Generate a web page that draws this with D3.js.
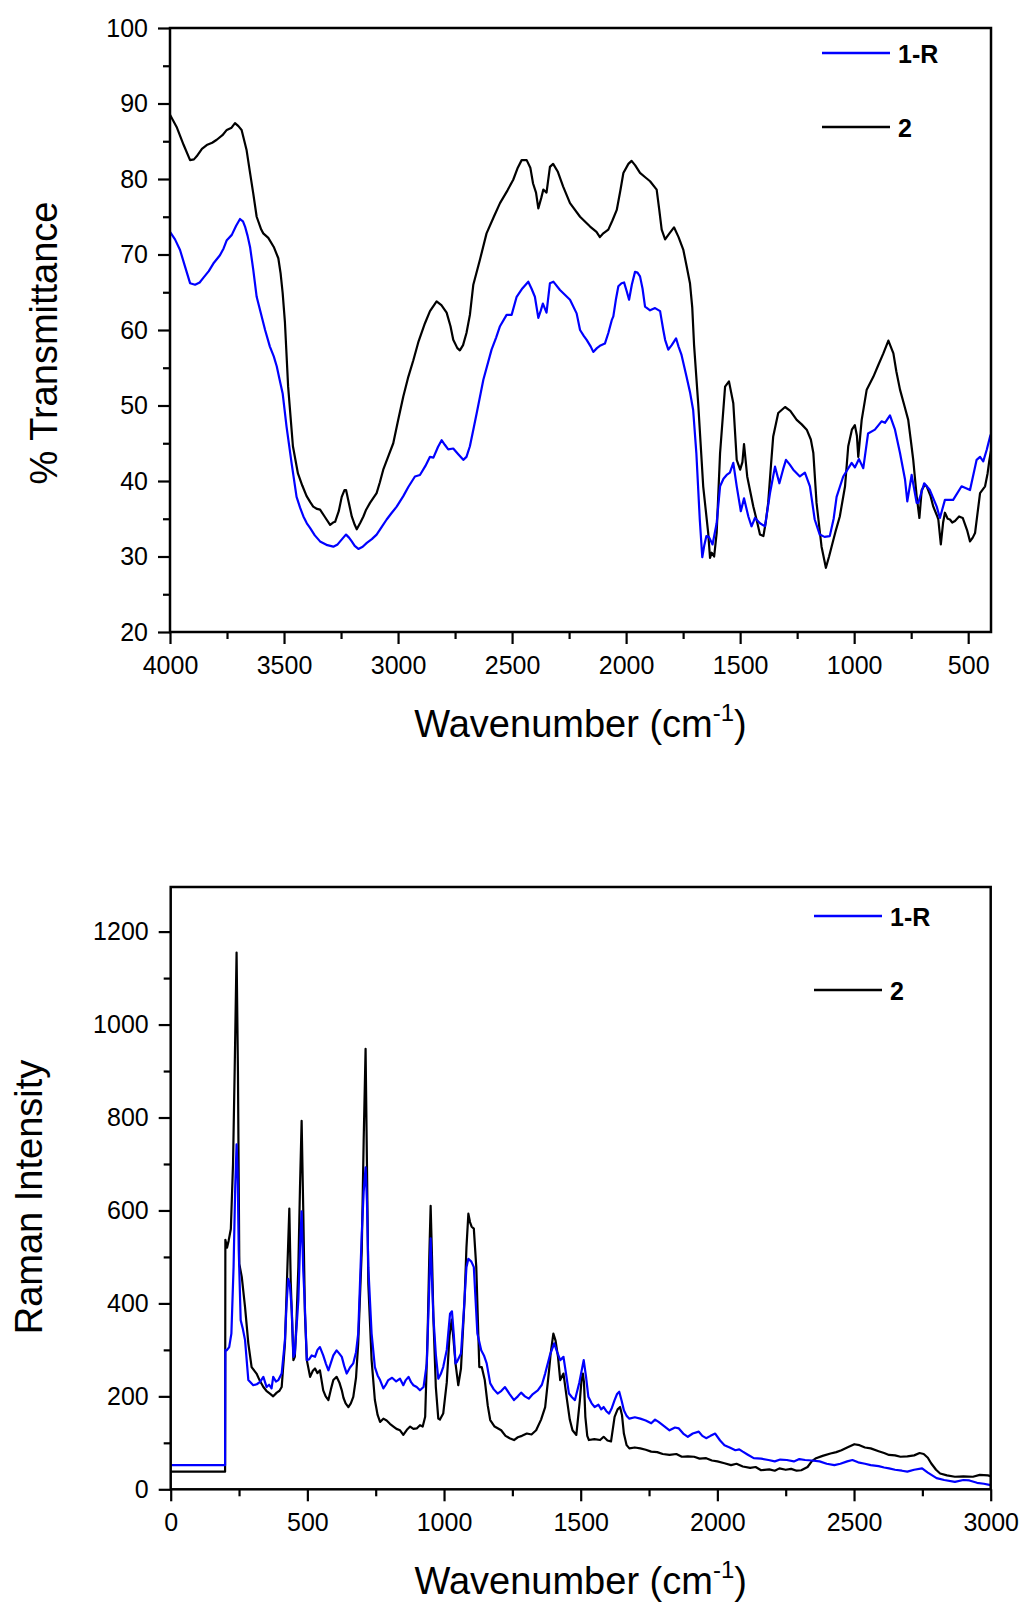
<!DOCTYPE html>
<html>
<head>
<meta charset="utf-8">
<script src="https://cdn.jsdelivr.net/npm/d3@7"></script>
<style>
  body { margin: 0; background: #fff; }
  #chart text { font-family: "Liberation Sans", Arial, sans-serif; fill: #000; }
</style>
</head>
<body>
<div id="chart"></div>
<script>
// ---- IR data (wavenumber, % transmittance) ----
const irTicksX = [4000, 3500, 3000, 2500, 2000, 1500, 1000, 500];
const irMinorX = [3750, 3250, 2750, 2250, 1750, 1250, 750];
const irTicksY = [20, 30, 40, 50, 60, 70, 80, 90, 100];
const irMinorY = [25, 35, 45, 55, 65, 75, 85, 95];

const ir1R = [[4000,73.0],[3978,72],[3956,70.6],[3935,68.5],[3912,66.2],[3890,66.0],[3870,66.3],[3854,66.9],[3830,67.8],[3810,68.8],[3781,69.9],[3765,70.8],[3751,71.9],[3729,72.6],[3710,73.8],[3693,74.7],[3680,74.4],[3671,73.7],[3660,72.5],[3649,71.0],[3635,68.0],[3620,64.4],[3598,61.8],[3583,60.0],[3562,57.8],[3545,56.5],[3532,55.2],[3520,53.5],[3506,51.6],[3489,47.2],[3467,42.4],[3445,37.9],[3430,36.5],[3415,35.3],[3400,34.4],[3386,33.8],[3365,32.8],[3342,32.0],[3310,31.5],[3284,31.3],[3265,31.6],[3254,32.0],[3240,32.5],[3228,32.9],[3215,32.5],[3203,32.0],[3190,31.4],[3174,31.0],[3155,31.3],[3137,31.8],[3115,32.3],[3094,32.9],[3070,34],[3050,34.9],[3030,35.7],[3006,36.6],[2977,38.0],[2955,39.2],[2926,40.6],[2904,40.8],[2880,42],[2860,43.2],[2845,43.1],[2825,44.5],[2809,45.4],[2795,44.8],[2780,44.2],[2758,44.3],[2735,43.5],[2714,42.8],[2700,43.2],[2685,44.6],[2670,46.8],[2655,49.0],[2626,53.4],[2590,57.4],[2570,59],[2553,60.5],[2524,62.0],[2502,62.0],[2480,64.4],[2455,65.5],[2429,66.4],[2415,65.5],[2400,64.4],[2385,61.6],[2375,62.5],[2365,63.5],[2349,62.3],[2334,66.2],[2319,66.4],[2290,65.3],[2246,64.0],[2217,62.2],[2202,60.0],[2185,59.2],[2173,58.7],[2155,57.8],[2144,57.1],[2128,57.6],[2115,57.9],[2093,58.2],[2078,59.6],[2063,61.3],[2056,61.8],[2045,64],[2034,65.8],[2020,66.2],[2009,66.3],[1998,65.2],[1987,64.0],[1975,66],[1961,67.7],[1950,67.6],[1939,67.1],[1928,65.5],[1917,63.1],[1895,62.6],[1873,62.9],[1851,62.5],[1837,60.0],[1829,58.7],[1815,57.4],[1800,58],[1781,58.9],[1770,57.8],[1757,56.7],[1735,53.8],[1720,51.8],[1706,49.4],[1692,43.7],[1677,34.9],[1666,29.9],[1657,31.5],[1648,32.7],[1637,32.6],[1621,31.6],[1603,34.4],[1588,39.3],[1573,40.3],[1559,40.8],[1545,41.1],[1530,42.4],[1515,39.3],[1497,36.0],[1483,37.7],[1464,35.3],[1450,34.0],[1435,35.1],[1413,34.4],[1391,34.0],[1369,38.4],[1347,41.9],[1328,39.7],[1312,41.5],[1299,42.8],[1283,42.2],[1267,41.5],[1238,40.6],[1216,41.1],[1194,39.3],[1173,34.9],[1151,32.9],[1130,32.6],[1107,32.7],[1090,35],[1077,37.9],[1048,40.6],[1011,42.4],[997,41.8],[979,42.9],[960,41.7],[939,46.3],[909,46.8],[880,47.9],[865,47.7],[843,48.7],[821,46.8],[799,43.7],[777,40.2],[767,37.3],[748,40.8],[726,37.1],[719,37.1],[693,39.7],[668,38.8],[638,36.6],[624,35.1],[602,37.5],[566,37.5],[529,39.3],[492,38.8],[463,42.8],[448,43.2],[434,42.6],[419,44.1],[404,45.9],[400,46.2]];

const ir2 = [[4000,88.5],[3971,86.9],[3940,84.5],[3912,82.5],[3895,82.6],[3883,83],[3860,84],[3839,84.5],[3815,84.8],[3795,85.2],[3770,85.8],[3751,86.5],[3730,86.8],[3715,87.4],[3700,87.0],[3686,86.5],[3664,83.8],[3650,81],[3635,78.1],[3620,75.0],[3600,73.3],[3591,72.8],[3569,72.2],[3545,71],[3525,69.5],[3515,67.5],[3506,64.9],[3496,61],[3482,52.5],[3461,44.6],[3439,41.0],[3420,39.4],[3401,38.0],[3385,37.2],[3372,36.6],[3355,36.3],[3342,36.2],[3320,35.2],[3298,34.2],[3285,34.5],[3276,34.6],[3260,36],[3247,37.9],[3235,38.8],[3228,38.8],[3215,37],[3203,35.3],[3190,34.2],[3181,33.6],[3165,34.5],[3152,35.3],[3140,36.2],[3123,37.1],[3094,38.4],[3080,39.8],[3065,41.5],[3040,43.5],[3021,45.0],[3000,48],[2977,51.2],[2955,53.8],[2933,56.0],[2910,58.5],[2882,60.9],[2860,62.5],[2831,63.8],[2810,63.3],[2787,62.3],[2770,60.5],[2758,58.7],[2740,57.6],[2729,57.3],[2715,58],[2700,59.6],[2685,62],[2670,66],[2641,69.3],[2612,72.8],[2580,75],[2553,76.8],[2520,78.5],[2495,79.9],[2475,81.5],[2458,82.5],[2436,82.5],[2420,81.5],[2408,79.4],[2395,78.2],[2385,76.1],[2372,77.5],[2363,78.6],[2349,78.2],[2334,81.6],[2320,82.0],[2300,81],[2276,79.0],[2246,76.8],[2202,75.0],[2158,73.7],[2130,73],[2115,72.3],[2100,72.8],[2078,73.3],[2060,74.5],[2041,75.9],[2025,78.5],[2012,80.8],[1990,82],[1976,82.4],[1960,81.8],[1939,80.8],[1915,80.2],[1895,79.7],[1866,78.6],[1855,76],[1844,73.3],[1829,72.0],[1810,72.8],[1790,73.6],[1770,72.3],[1749,70.6],[1735,68.5],[1720,66.2],[1710,63],[1702,58],[1684,50.3],[1662,39.3],[1640,33.1],[1632,29.8],[1625,30.5],[1614,30],[1603,33.1],[1588,43.7],[1566,52.5],[1549,53.2],[1530,50.3],[1515,42.8],[1500,41.5],[1490,42.5],[1483,44.9],[1469,40.6],[1455,38.5],[1442,36.6],[1425,34.5],[1413,32.9],[1398,32.7],[1388,34.5],[1377,37.1],[1365,42],[1355,45.9],[1333,49.0],[1303,49.8],[1280,49.3],[1252,48.1],[1230,47.5],[1208,46.8],[1190,45.5],[1179,43.7],[1165,37.1],[1143,31.3],[1124,28.5],[1110,30],[1099,31.3],[1080,33.5],[1063,35.3],[1040,39.3],[1026,44.6],[1010,46.8],[997,47.4],[988,46],[982,43.2],[975,45.5],[967,48.1],[945,52.1],[916,53.8],[895,55.3],[872,56.9],[850,58.6],[828,56.9],[815,54.5],[799,52.1],[780,50],[763,48.1],[750,45],[741,42.8],[726,38.0],[714,35.1],[704,38.8],[690,39.5],[682,39.3],[665,38],[653,36.6],[638,35.5],[631,34.9],[620,31.6],[610,34.5],[602,35.8],[590,35],[580,34.9],[570,34.5],[558,34.7],[540,35.3],[524,35.1],[505,33.5],[492,32.0],[480,32.5],[470,33.1],[460,35.5],[448,38.4],[426,39.3],[415,41],[407,42.8],[400,44]];

// ---- Raman data (wavenumber, intensity) ----
const ramanTicksX = [0, 500, 1000, 1500, 2000, 2500, 3000];
const ramanMinorX = [250, 750, 1250, 1750, 2250, 2750];
const ramanTicksY = [0, 200, 400, 600, 800, 1000, 1200];
const ramanMinorY = [100, 300, 500, 700, 900, 1100];

const raman1R = [[0,52],[199,52],[200,300],[205,299],[214,306],[222,335],[230,478],[236,650],[241,742],[245,680],[249,514],[256,364],[264,345],[272,321],[284,235],[302,224],[315,226],[327,231],[339,242],[351,220],[360,225],[369,217],[375,242],[385,232],[394,235],[406,249],[418,321],[424,400],[430,453],[436,440],[443,385],[449,285],[454,292],[467,407],[473,520],[479,598],[485,470],[490,407],[498,278],[507,280],[516,288],[528,285],[537,300],[546,306],[558,288],[568,270],[577,256],[586,272],[595,288],[607,299],[617,292],[626,285],[635,265],[644,249],[656,262],[668,271],[678,295],[686,335],[699,550],[706,640],[713,693],[718,620],[723,478],[735,335],[747,263],[757,245],[766,235],[778,217],[787,225],[796,235],[810,240],[825,232],[839,238],[851,224],[860,235],[870,242],[880,230],[888,224],[900,220],[912,213],[925,220],[937,271],[945,420],[951,540],[956,450],[961,371],[970,290],[979,238],[988,248],[997,263],[1010,300],[1022,378],[1029,383],[1036,330],[1042,271],[1047,274],[1062,292],[1072,380],[1082,478],[1089,496],[1100,490],[1109,478],[1122,335],[1136,299],[1146,288],[1156,271],[1169,228],[1182,215],[1196,206],[1210,212],[1223,220],[1240,205],[1256,192],[1270,200],[1282,208],[1296,200],[1310,195],[1325,205],[1343,213],[1358,225],[1370,249],[1388,290],[1403,314],[1414,295],[1425,278],[1437,285],[1446,250],[1457,206],[1468,198],[1479,192],[1495,230],[1511,278],[1520,240],[1528,199],[1540,185],[1551,177],[1565,182],[1575,172],[1584,177],[1594,168],[1604,163],[1614,175],[1624,192],[1633,205],[1641,210],[1650,190],[1658,170],[1668,158],[1678,152],[1698,155],[1718,152],[1738,148],[1758,142],[1772,150],[1785,145],[1805,136],[1825,127],[1845,133],[1859,131],[1875,120],[1892,113],[1910,120],[1932,124],[1945,115],[1959,110],[1975,115],[1992,120],[2010,105],[2026,95],[2045,90],[2066,84],[2080,86],[2093,81],[2110,75],[2133,67],[2160,66],[2187,63],[2210,60],[2230,64],[2254,63],[2280,60],[2300,65],[2321,63],[2345,62],[2374,60],[2400,55],[2428,52],[2450,55],[2475,60],[2494,63],[2515,58],[2540,55],[2561,52],[2590,50],[2610,47],[2628,45],[2650,42],[2675,40],[2695,38],[2720,42],[2749,45],[2770,36],[2802,24],[2830,20],[2869,16],[2900,20],[2922,19],[2950,14],[2975,12],[3000,9]];

const raman2 = [[0,38],[199,38],[200,537],[206,520],[212,535],[220,560],[228,700],[234,900],[241,1155],[246,900],[251,485],[260,457],[272,392],[284,314],[296,263],[314,249],[325,235],[339,220],[350,212],[363,206],[375,200],[388,208],[398,212],[406,220],[418,314],[427,478],[434,604],[439,450],[443,380],[449,278],[454,285],[460,360],[467,478],[473,650],[479,793],[485,600],[491,380],[498,278],[510,242],[520,255],[528,260],[537,250],[546,256],[558,213],[567,200],[577,192],[586,215],[595,235],[607,242],[617,230],[626,213],[632,197],[640,185],[650,177],[659,185],[668,199],[678,240],[686,314],[699,514],[706,750],[713,948],[718,700],[723,442],[735,278],[747,192],[757,160],[766,145],[778,152],[790,148],[802,141],[815,135],[826,130],[839,127],[851,117],[864,128],[876,135],[888,130],[900,131],[912,138],[922,135],[931,156],[940,335],[946,500],[951,610],[956,500],[961,371],[970,220],[979,152],[985,150],[997,163],[1010,230],[1020,330],[1028,365],[1035,320],[1042,271],[1052,224],[1062,260],[1075,407],[1082,520],[1089,593],[1095,575],[1101,565],[1109,561],[1118,478],[1129,263],[1138,263],[1149,235],[1160,180],[1169,149],[1185,135],[1209,127],[1225,115],[1240,110],[1256,106],[1270,112],[1285,115],[1303,120],[1320,118],[1337,127],[1355,150],[1370,177],[1385,260],[1390,292],[1400,335],[1408,320],[1417,285],[1425,235],[1437,249],[1450,192],[1460,150],[1470,127],[1484,117],[1497,192],[1503,235],[1508,249],[1512,230],[1517,156],[1524,115],[1530,106],[1550,108],[1571,106],[1584,113],[1598,105],[1611,103],[1624,156],[1635,172],[1644,177],[1651,160],[1658,120],[1668,95],[1678,88],[1698,90],[1718,88],[1738,85],[1758,81],[1780,80],[1800,76],[1825,74],[1850,76],[1870,70],[1892,71],[1915,70],[1935,66],[1959,67],[1980,62],[2000,60],[2026,56],[2050,52],[2070,55],[2093,49],[2120,46],[2140,48],[2160,41],[2190,43],[2210,40],[2227,45],[2250,42],[2270,44],[2290,40],[2307,41],[2330,48],[2345,60],[2361,67],[2385,72],[2414,77],[2435,80],[2454,84],[2475,90],[2501,97],[2520,95],[2540,90],[2561,88],[2590,82],[2610,78],[2628,74],[2650,73],[2670,70],[2695,71],[2720,73],[2740,78],[2755,76],[2770,68],[2782,56],[2800,42],[2815,34],[2840,30],[2869,27],[2900,28],[2935,27],[2960,31],[2990,30],[3000,28]];

const legendNames = ["1-R", "2"];
const colors = { "1-R": "#0000ff", "2": "#000000" };

const W = 1024, H = 1604;
const svg = d3.select("#chart").append("svg")
  .attr("width", W).attr("height", H);

function drawPanel(opt) {
  const { left, right, top, bottom } = opt.box;
  const x = d3.scaleLinear().domain(opt.xDomain).range([left, right]);
  const y = d3.scaleLinear().domain(opt.yDomain).range([bottom, top]);
  const g = svg.append("g");

  // minor ticks
  g.append("g")
    .attr("transform", `translate(0,${bottom})`)
    .call(d3.axisBottom(x).tickValues(opt.minorX).tickSize(7).tickFormat(""));
  g.append("g")
    .attr("transform", `translate(${left},0)`)
    .call(d3.axisLeft(y).tickValues(opt.minorY).tickSize(7).tickFormat(""));

  // major ticks + labels
  g.append("g")
    .attr("transform", `translate(0,${bottom})`)
    .call(d3.axisBottom(x).tickValues(opt.ticksX).tickSize(12).tickPadding(12).tickFormat(d3.format("d")));
  g.append("g")
    .attr("transform", `translate(${left},0)`)
    .call(d3.axisLeft(y).tickValues(opt.ticksY).tickSize(12).tickPadding(10).tickFormat(d3.format("d")));

  g.selectAll(".tick line").attr("stroke", "#000").attr("stroke-width", 2.2);
  g.selectAll(".domain").remove();
  g.selectAll(".tick text").attr("font-size", "25px");

  // data lines (black first, blue on top)
  const line = d3.line().x(d => x(d[0])).y(d => y(d[1]));
  [["2", opt.s2], ["1-R", opt.s1]].forEach(([name, data]) => {
    g.append("path")
      .datum(data)
      .attr("fill", "none")
      .attr("stroke", colors[name])
      .attr("stroke-width", 2.2)
      .attr("stroke-linejoin", "round")
      .attr("d", line);
  });

  // frame
  g.append("rect")
    .attr("x", left).attr("y", top)
    .attr("width", right - left).attr("height", bottom - top)
    .attr("fill", "none").attr("stroke", "#000").attr("stroke-width", 2.5);

  // legend
  legendNames.forEach((name, i) => {
    const ly = opt.legend.y + i * opt.legend.gap;
    g.append("line")
      .attr("x1", opt.legend.x).attr("x2", opt.legend.x + 68)
      .attr("y1", ly).attr("y2", ly)
      .attr("stroke", colors[name]).attr("stroke-width", 2.5);
    g.append("text")
      .attr("x", opt.legend.x + 76).attr("y", ly + 10)
      .attr("font-size", "25px").attr("font-weight", "bold")
      .text(name);
  });

  // axis titles
  const xt = g.append("text")
    .attr("x", (left + right) / 2).attr("y", opt.xTitleY)
    .attr("text-anchor", "middle").attr("font-size", "38px");
  xt.append("tspan").text("Wavenumber (cm");
  xt.append("tspan").attr("font-size", "24px").attr("dy", "-16").text("-1");
  xt.append("tspan").attr("dy", "16").text(")");

  g.append("text")
    .attr("transform", `translate(${opt.yTitle.x},${opt.yTitle.y}) rotate(-90)`)
    .attr("text-anchor", "middle").attr("font-size", "38px")
    .text(opt.yTitle.text);
}

drawPanel({
  box: { left: 170, right: 991, top: 28, bottom: 632 },
  xDomain: [4000, 400], yDomain: [20, 100],
  ticksX: irTicksX, minorX: irMinorX, ticksY: irTicksY, minorY: irMinorY,
  s1: ir1R, s2: ir2,
  legend: { x: 822, y: 53, gap: 74 },
  xTitleY: 737,
  yTitle: { x: 57, y: 343, text: "% Transmittance" }
});

drawPanel({
  box: { left: 170.7, right: 990.7, top: 887, bottom: 1489.3 },
  xDomain: [0, 3000], yDomain: [0, 1296],
  ticksX: ramanTicksX, minorX: ramanMinorX, ticksY: ramanTicksY, minorY: ramanMinorY,
  s1: raman1R, s2: raman2,
  legend: { x: 814, y: 916, gap: 74 },
  xTitleY: 1594,
  yTitle: { x: 42, y: 1197, text: "Raman Intensity" }
});
</script>
</body>
</html>
